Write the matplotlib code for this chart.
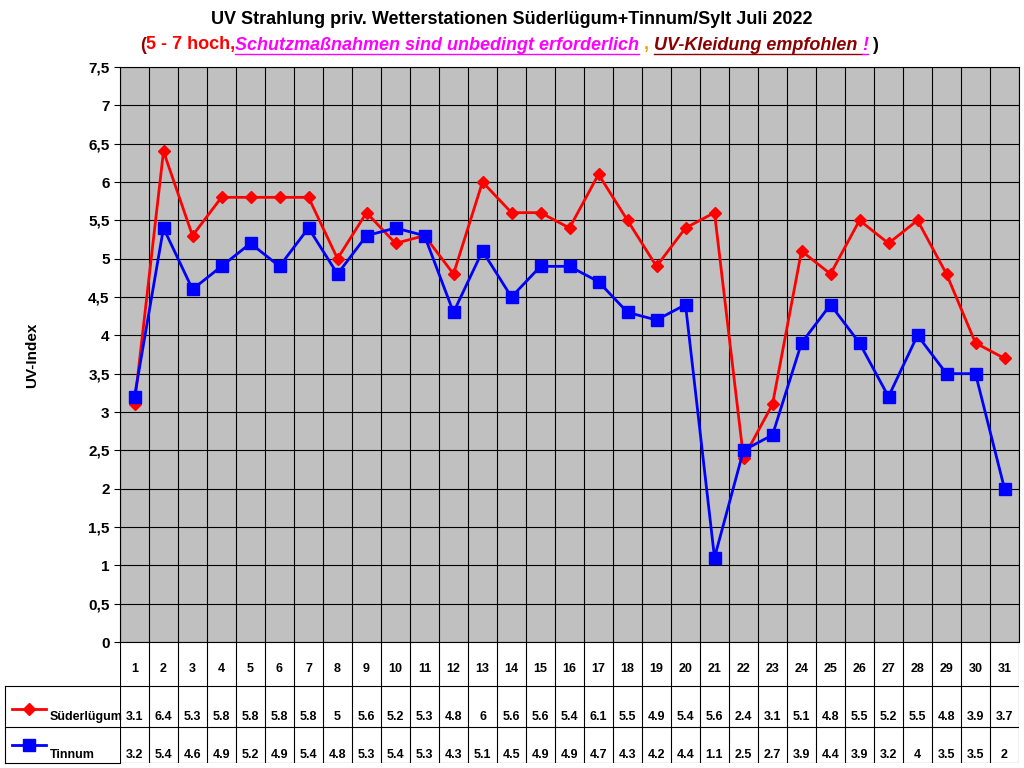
import matplotlib
matplotlib.use("Agg")
import matplotlib.pyplot as plt
import numpy as np

days = list(range(1, 32))
sued = [3.1,6.4,5.3,5.8,5.8,5.8,5.8,5,5.6,5.2,5.3,4.8,6,5.6,5.6,5.4,6.1,5.5,4.9,5.4,5.6,2.4,3.1,5.1,4.8,5.5,5.2,5.5,4.8,3.9,3.7]
tinn = [3.2,5.4,4.6,4.9,5.2,4.9,5.4,4.8,5.3,5.4,5.3,4.3,5.1,4.5,4.9,4.9,4.7,4.3,4.2,4.4,1.1,2.5,2.7,3.9,4.4,3.9,3.2,4.0,3.5,3.5,2.0]
yticks = np.arange(0, 7.51, 0.5)

plt.rcParams['font.family'] = ['Liberation Sans', 'DejaVu Sans']
plt.rcParams['font.weight'] = 'bold'
W, H = 1024, 768
fig = plt.figure(figsize=(W/100, H/100), dpi=100)

def fx(px): return px / W
def fy(py): return 1 - py / H

ax = fig.add_axes([fx(120), fy(642), fx(1019) - fx(120), fy(67) - fy(642)])
ax.set_facecolor('#C0C0C0')
ax.set_xlim(0.5, 31.5)
ax.set_ylim(0, 7.5)
ax.set_yticks(yticks)
ax.set_yticklabels([f"{v:g}".replace('.', ',') for v in yticks], fontsize=11, fontweight='bold')
ax.set_xticks([])
for v in yticks:
    ax.axhline(v, color='black', lw=0.8, zorder=1)
for i in range(len(days) + 1):
    ax.axvline(i + 0.5, color='black', lw=0.8, zorder=1)
for s in ax.spines.values():
    s.set_color('black')
ax.tick_params(axis='y', length=4)
ax.plot(days, sued, color='#FF0000', lw=2, marker='D', ms=6, zorder=3)
ax.plot(days, tinn, color='#0000FF', lw=2, marker='s', ms=8, zorder=3)
fig.text(fx(32), fy(355), 'UV-Index', rotation=90, ha='center', va='center', fontsize=11, fontweight='bold')

# data table
tb = fig.add_axes([fx(120), fy(763), fx(1019) - fx(120), fy(642) - fy(763)])
tb.set_xlim(0.5, 31.5)
tb.set_ylim(763, 642)
tb.axis('off')
for i in range(len(days) + 1):
    tb.plot([i + 0.5, i + 0.5], [642, 763], color='black', lw=0.8)
for yy in [686, 727, 763]:
    tb.plot([0.5, 31.5], [yy, yy], color='black', lw=0.8)
for d, a, b in zip(days, sued, tinn):
    tb.text(d, 669, str(d), ha='center', va='center', fontsize=9)
    tb.text(d, 717, f"{a:g}", ha='center', va='center', fontsize=9)
    tb.text(d, 755, f"{b:g}", ha='center', va='center', fontsize=9)

# left label column (figure coords)
for yy in [686, 727, 763]:
    fig.add_artist(plt.Line2D([fx(5), fx(120)], [fy(yy), fy(yy)], color='black', lw=0.8))
fig.add_artist(plt.Line2D([fx(5), fx(5)], [fy(686), fy(763)], color='black', lw=0.8))
fig.add_artist(plt.Line2D([fx(12), fx(46)], [fy(709), fy(709)], color='#FF0000', lw=2, marker=None))
fig.add_artist(plt.Line2D([fx(29)], [fy(709)], color='#FF0000', marker='D', ms=6))
fig.add_artist(plt.Line2D([fx(12), fx(46)], [fy(745), fy(745)], color='#0000FF', lw=2))
fig.add_artist(plt.Line2D([fx(29)], [fy(745)], color='#0000FF', marker='s', ms=8))
fig.text(fx(50), fy(717), 'Süderlügum', va='center', fontsize=9)
fig.text(fx(50), fy(755), 'Tinnum', va='center', fontsize=9)

fig.text(0.5, fy(20), 'UV Strahlung priv. Wetterstationen Süderlügum+Tinnum/Sylt Juli 2022',
         ha='center', va='center', fontsize=13, fontweight='bold')

parts = [("(", '#8B0000', 'normal', False), ("5 - 7 hoch,", '#FF0000', 'normal', False),
         ("Schutzmaßnahmen sind unbedingt erforderlich", '#FF00FF', 'italic', True),
         (" , ", '#FF9900', 'normal', False),
         ("UV-Kleidung empfohlen ", '#8B0000', 'italic', True),
         ("!", '#FF00FF', 'italic', True), (" )", '#000000', 'normal', False)]
fig.canvas.draw()
r = fig.canvas.get_renderer()
texts = []
x = fx(140)
for s, c, st, ul in parts:
    t = fig.text(x, fy(45), s, color=c, style=st, fontsize=13, fontweight='bold', va='center')
    bb = t.get_window_extent(r)
    if ul:
        fig.add_artist(plt.Line2D([bb.x0 / W, bb.x1 / W], [fy(54), fy(54)], color=c, lw=1))
    x = bb.x1 / W
fig.savefig('out.png', dpi=100)
